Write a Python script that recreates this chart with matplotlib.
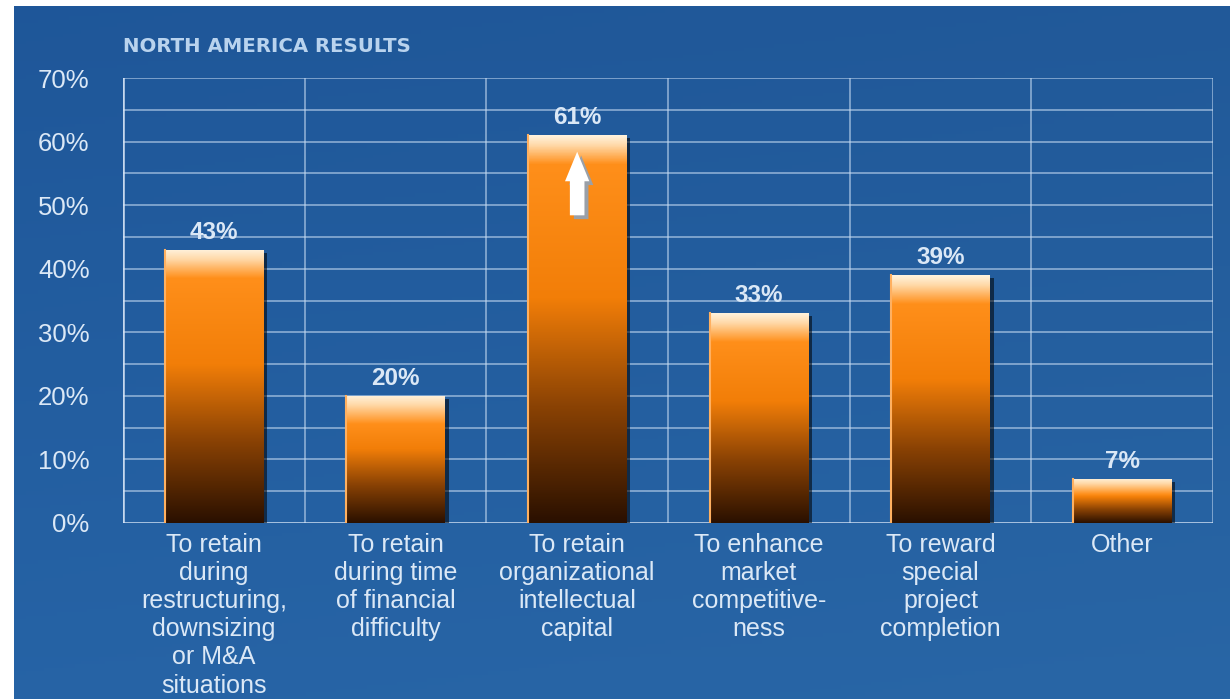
import numpy as np
import matplotlib
matplotlib.use("Agg")
import matplotlib.pyplot as plt
import matplotlib.transforms as mtransforms
from matplotlib.colors import LinearSegmentedColormap
from matplotlib.patches import Rectangle

plt.rcParams['font.family'] = ['Liberation Sans', 'DejaVu Sans']

categories = [
    "To retain\nduring\nrestructuring,\ndownsizing\nor M&A\nsituations",
    "To retain\nduring time\nof financial\ndifficulty",
    "To retain\norganizational\nintellectual\ncapital",
    "To enhance\nmarket\ncompetitive-\nness",
    "To reward\nspecial\nproject\ncompletion",
    "Other",
]
values = [43, 20, 61, 33, 39, 7]
value_labels = ["43%", "20%", "61%", "33%", "39%", "7%"]
yticks = [0, 10, 20, 30, 40, 50, 60, 70]
ytick_labels = ["0%", "10%", "20%", "30%", "40%", "50%", "60%", "70%"]
title = "NORTH AMERICA RESULTS"

text_col = "#dbe8f6"
grid_col = (0.78, 0.86, 0.95, 0.55)

fig = plt.figure(figsize=(12.3, 6.99), dpi=100)
fig.patch.set_facecolor("white")

# blue backdrop, a touch lighter towards the bottom
bg = fig.add_axes([14 / 1230, 0, 1 - 14 / 1230, 1 - 6 / 699])
bg.set_axis_off()
yy, xx = np.mgrid[0:1:200j, 0:1:200j]
r = 0.12 + 0.03 * yy + 0.01 * xx
g = 0.34 + 0.05 * yy + 0.01 * xx
b = 0.60 + 0.05 * yy
bg.imshow(np.dstack([r, g, b]), extent=[0, 1, 0, 1], aspect="auto", origin="upper")
bg.set_xlim(0, 1)
bg.set_ylim(0, 1)

ax = fig.add_axes([123 / 1230, (699 - 523) / 699, (1213 - 123) / 1230, (523 - 78) / 699])
ax.patch.set_alpha(0)
x = np.arange(len(values))

# grid every 5%
for yv in np.arange(5, 71, 5):
    ax.axhline(yv, color=grid_col, lw=1.4, zorder=1)
for xv in np.arange(-0.5, len(values), 1.0):
    ax.axvline(xv, color=grid_col, lw=1.4, zorder=1)
ax.axhline(0, color=(0.85, 0.9, 0.97, 0.8), lw=2, zorder=1)
ax.axvline(-0.5, color=(0.85, 0.9, 0.97, 0.8), lw=2, zorder=1)

bars = ax.bar(x, values, width=0.54, color="none", zorder=3)

shadow_off = mtransforms.offset_copy(ax.transData, fig=fig, x=4, y=-3, units="dots")
for bar, v, lab in zip(bars, values, value_labels):
    x0, w = bar.get_x(), bar.get_width()
    # drop shadow
    ax.add_patch(Rectangle((x0, 0), w, v, facecolor="black", alpha=0.55,
                           transform=shadow_off, zorder=2))
    # vertical gradient: dark brown bottom -> orange -> pale highlight at top
    f = min(2.5 / v, 0.2)
    hi = 1 - f * 1.8
    cmap = LinearSegmentedColormap.from_list("bar", [
        (0.0, "#2a1000"),
        (0.3, "#8a4204"),
        (min(0.58, hi - 0.05), "#f27e08"),
        (hi, "#ff8f1a"),
        (1 - f * 0.6, "#ffd9a8"),
        (1.0, "#fff2dc"),
    ])
    grad = np.linspace(1, 0, 256).reshape(-1, 1)
    im = ax.imshow(grad, cmap=cmap, extent=[x0, x0 + w, 0, v], aspect="auto",
                   origin="upper", zorder=3, vmin=0, vmax=1)
    rect = Rectangle((x0, 0), w, v, transform=ax.transData)
    im.set_clip_path(rect)
    ax.plot([x0, x0], [0, v], color="#ffb060", lw=1.5, zorder=4)
    ax.text(bar.get_x() + w / 2, v + 0.9, lab, ha="center", va="bottom",
            fontsize=17.5, fontweight="bold", color=text_col, zorder=5)

# white arrow on the tallest bar
top = int(np.argmax(values))
for dx, dy, col in [(0.022, -0.6, "#9aa0a8"), (0, 0, "white")]:
    ax.annotate("", xy=(x[top] + dx, 58.4 + dy), xytext=(x[top] + dx, 48.4 + dy),
                arrowprops=dict(arrowstyle="simple,head_length=0.85,head_width=0.7,tail_width=0.42",
                                color=col, lw=0, shrinkA=0, shrinkB=0,
                                mutation_scale=25),
                zorder=6)

ax.set_xlim(-0.5, len(values) - 0.5)
ax.set_ylim(0, 70)
ax.set_yticks(yticks)
ax.set_yticklabels(ytick_labels, fontsize=18.5)
ax.set_xticks(x)
ax.set_xticklabels(categories, linespacing=1.22, va="top", fontsize=18)
ax.tick_params(length=0, colors=text_col)
ax.tick_params(axis="y", pad=24)
ax.tick_params(axis="x", pad=7)
for s in ax.spines.values():
    s.set_visible(False)

fig.text(123 / 1230, 1 - 46 / 699, title, fontsize=14.2, fontweight="bold",
         color="#b9d3ee", va="center", ha="left", family=["DejaVu Sans"])

fig.savefig("out.png", dpi=100)
